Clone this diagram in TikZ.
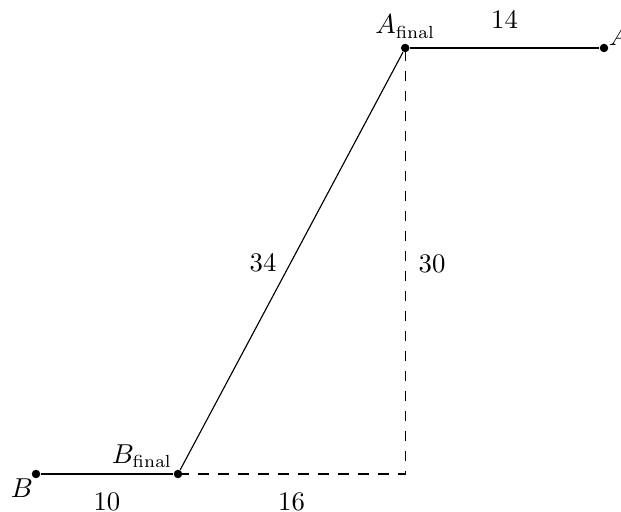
\documentclass[tikz,border=0pt]{standalone}
\begin{document}
\begin{tikzpicture}[x=5.68pt,y=5.68pt,
  every node/.append style={font=\fontsize{10.7pt}{13pt}\selectfont},
  pt/.style={circle,fill=black,inner sep=0pt,minimum size=3.4pt},
  lbl/.style={inner sep=0pt},
  seg/.style={line width=0.45pt},
  dsh/.style={line width=0.45pt,dash pattern=on 4.2pt off 3.8pt}]
\useasboundingbox (-2.535,-2.676) rectangle (41.197,33.380);
\coordinate (C) at (26,0);
\draw[dsh] (10,0) -- (C) -- (26,30);
\node[pt] (B) at (0,0) {};
\node[pt] (Bf) at (10,0) {};
\node[pt] (Af) at (26,30) {};
\node[pt] (A) at (40,30) {};
\draw[seg] (B) -- (Bf);
\draw[seg] (Bf) -- (Af);
\draw[seg] (Af) -- (A);
\node[lbl] (lB) at (-0.99,-1.02) {$B$};
\node[lbl] (lBf) at (7.46,1.27) {$B_{\mathrm{final}}$};
\node[lbl] (lAf) at (26,31.5) {$A_{\mathrm{final}}$};
\node[lbl,anchor=west] (lA) at (40.3,30.85) {$A$};
\node[lbl] (n10) at (5,-1.97) {10};
\node[lbl] (n16) at (18,-1.97) {16};
\node[lbl] (n14) at (33,32) {14};
\node[lbl] (n34) at (15.99,14.86) {34};
\node[lbl] (n30) at (27.89,14.79) {30};
\end{tikzpicture}
\end{document}
